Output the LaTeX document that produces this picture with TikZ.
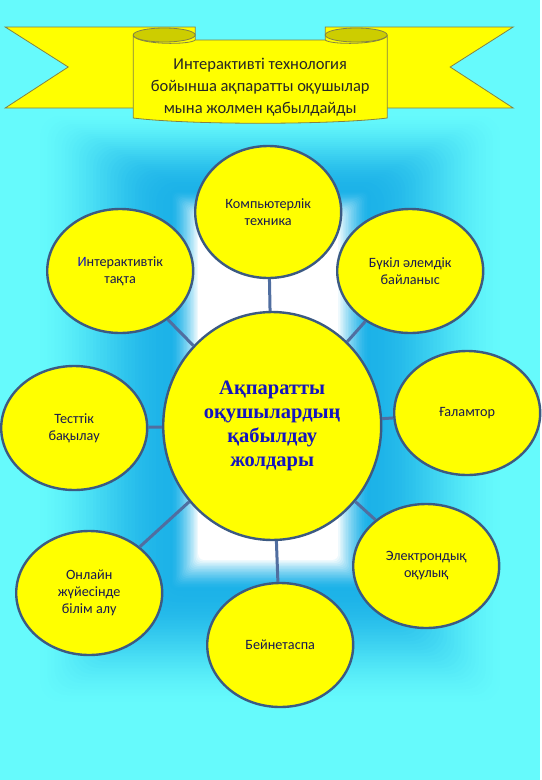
\documentclass[tikz,border=0pt]{standalone}
\usepackage{fontspec}
\setmainfont{Liberation Serif}
\newfontfamily\labelfont{Carlito}
\usetikzlibrary{shapes.geometric}
\definecolor{bgcyan}{RGB}{102,250,252}
\definecolor{glowblue}{RGB}{28,178,232}
\definecolor{leafyellow}{RGB}{255,255,0}
\definecolor{rimblue}{RGB}{60,90,130}
\definecolor{linkblue}{RGB}{80,110,160}
\definecolor{inkblue}{RGB}{25,25,80}
\definecolor{hubblue}{RGB}{20,20,190}
\definecolor{rolldark}{RGB}{205,205,0}
\definecolor{ribbonrim}{RGB}{130,130,70}
\begin{document}
\begin{tikzpicture}[
            x = 1pt, y = -1pt,
            leaf/.style = {
                ellipse,
                draw = rimblue,
                line width = 2.4pt,
                fill = leafyellow,
                inner sep = 0pt,
                minimum width = 146pt,
                minimum height = 124pt,
                align = center,
                text = inkblue,
                font = \labelfont\fontsize{14.2}{17}\selectfont},
            hub/.style = {
                leaf,
                minimum width = 218pt,
                minimum height = 228pt,
                text = hubblue,
                font = \bfseries\fontsize{20.5}{24}\selectfont},
            link/.style = {
                draw = linkblue,
                line width = 3pt},
            ribbon/.style = {
                fill = leafyellow,
                draw = ribbonrim,
                line width = 0.8pt}]
        % Background and glow
        \fill[bgcyan] (0,0) rectangle (540,780);
        \foreach \i [evaluate=\i as \p using int(100*(3*(\i/40)^2-2*(\i/40)^3))] in {0,...,40}
            \fill[glowblue!\p!bgcyan, rounded corners=20pt] (30+140*\i/40, 110+80*\i/40) rectangle (510-140*\i/40, 710-120*\i/40);
        \foreach \i [evaluate=\i as \p using int(100*(\i/20)^1.5)] in {0,...,20}
            \fill[white!\p!glowblue, rounded corners=6pt] (170+1.4*\i, 190+1.3*\i) rectangle (370-1.6*\i, 590-1.5*\i);

        % Ribbon
        \filldraw[ribbon] (5,27) -- (195,27) -- (195,108) -- (5,108) -- (68,67) -- cycle;
        \filldraw[ribbon] (513,27) -- (325,27) -- (325,108) -- (513,108) -- (450,67) -- cycle;
        \filldraw[ribbon, fill=rolldark] (164,35) ellipse (31pt and 7pt);
        \filldraw[ribbon, fill=rolldark] (356,35) ellipse (31pt and 7pt);
        \filldraw[ribbon] (133,36) .. controls (140,45) and (190,45) .. (195,40) -- (325,40)
            .. controls (330,45) and (380,45) .. (387,36) -- (387,118)
            .. controls (330,125) and (190,125) .. (133,118) -- cycle;
        \node[font=\labelfont\fontsize{16.5}{22}\selectfont, align=center, text=black!85] (title) at (260,87)
            {Интерактивті технология\\бойынша ақпаратты оқушылар\\мына жолмен қабылдайды};

        % Place nodes
        \node [hub] (hub) at (272,426) {Ақпаратты\\оқушылардың\\қабылдау\\жолдары};
        \node [leaf, minimum height=132pt] (comp) at (268,212) {Компьютерлік\\техника};
        \node [leaf] (board) at (120,271) {\textcolor{hubblue}{И}нтерактивтік\\тақта};
        \node [leaf] (world) at (410,271) {Бүкіл әлемдік\\байланыс};
        \node [leaf] (test) at (74,428) {Тесттік\\бақылау};
        \node [leaf] (net) at (467,413) {Ғаламтор};
        \node [leaf] (online) at (89,593) {Онлайн\\жүйесінде\\білім алу};
        \node [leaf] (ebook) at (426,566) {Электрондық\\оқулық};
        \node [leaf] (video) at (280,645) {Бейнетаспа};

        % Draw edges
        \path [link] (hub) -- (comp);
        \path [link] (hub) -- (board);
        \path [link] (hub) -- (world);
        \path [link] (hub) -- (test);
        \path [link] (hub) -- (net);
        \path [link] (hub) -- (online);
        \path [link] (hub) -- (ebook);
        \path [link] (hub) -- (video);
    \end{tikzpicture}
\end{document}
